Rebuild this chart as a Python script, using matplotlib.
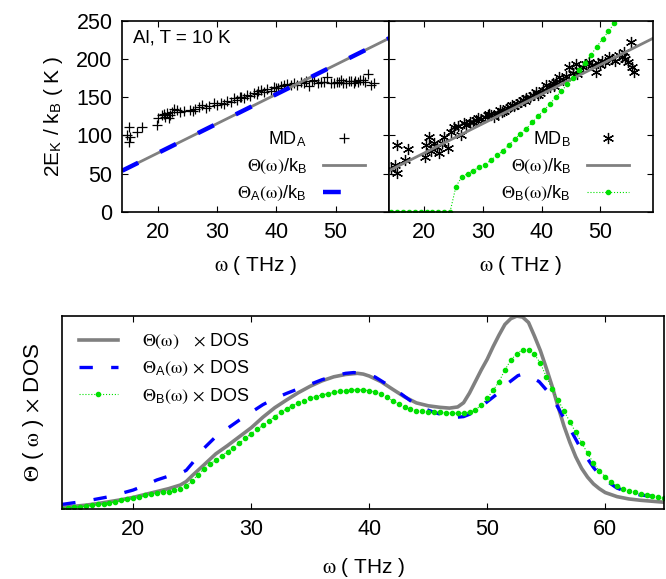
import numpy as np
import matplotlib
matplotlib.use('Agg')
import matplotlib.pyplot as plt

plt.rcParams['font.family'] = ['Liberation Sans', 'DejaVu Sans']
plt.rcParams['mathtext.fontset'] = 'stix'

# ---- top panels: MD kinetic temperature vs frequency ----
omega_line = [14, 59]
theta_line = [54, 227]          # Theta(omega)/k_B
theta_a_line = [54, 227]        # Theta_A(omega)/k_B (coincides)

md_a_w = [14.8, 15.2, 15.3, 15.2, 16.4, 17.3, 19.9, 20.1, 20.7, 21.2, 21.5, 22.1, 22.4, 22.8,
          21.0, 21.8, 23.2, 23.8, 24.4, 25.5, 25.9, 26.3, 26.9, 27.5, 28.1, 28.6, 29.4, 29.9,
          30.6, 31.2, 31.7, 32.3, 32.8, 33.4, 33.9, 34.5, 35.1, 35.6, 36.2, 36.8, 37.4, 37.9,
          38.5, 39.1, 39.6, 40.2, 40.7, 41.3, 41.8, 42.4, 43.0, 43.5, 44.1, 44.7, 45.5, 46.0,
          46.4, 47.0, 47.5, 48.1, 48.6, 49.2, 49.8, 50.3, 50.9, 51.3, 51.7, 52.2, 52.6, 53.1,
          53.7, 54.1, 54.6, 55.0, 55.5, 55.9, 56.4, 34.0, 36.9, 40.0, 45.0, 50.5, 53.3]
md_a_k = [100.6, 110.7, 97.6, 92.0, 105.0, 111.5, 113.7, 122.5, 126.8, 124.6, 129.0, 126.8, 131.0, 134.0,
          127.5, 123.0, 133.0, 131.0, 132.5, 133.0, 131.5, 134.0, 136.8, 140.0, 136.0, 138.6, 142.0, 139.5,
          143.0, 141.5, 145.5, 144.0, 148.6, 147.0, 150.7, 149.0, 153.0, 151.5, 156.0, 154.0, 159.5, 156.5,
          161.0, 158.0, 163.0, 161.5, 165.0, 166.0, 167.5, 165.5, 169.0, 166.5, 170.0, 168.0, 164.7, 171.0,
          172.5, 168.5, 170.0, 170.0, 176.9, 168.5, 168.0, 170.5, 172.5, 168.0, 169.0, 171.0, 171.6, 168.5,
          170.0, 172.0, 172.5, 170.5, 180.0, 166.0, 168.0, 150.0, 158.0, 162.0, 171.5, 169.5, 171.0]

md_b_w = [15.4, 17.2, 15.1, 15.4, 16.7, 14.3, 20.1, 20.3, 20.9, 21.7, 22.6, 23.4, 24.0, 25.1,
          26.8, 26.3, 21.2, 22.2, 23.0, 27.8, 28.4, 29.1, 29.7, 30.3, 30.8, 31.4, 31.9, 32.5,
          33.0, 33.6, 34.1, 34.7, 35.3, 35.8, 36.4, 36.8, 37.4, 38.0, 38.5, 39.1, 39.7, 40.2,
          40.8, 41.4, 41.9, 42.5, 43.0, 43.6, 44.2, 44.7, 45.3, 45.8, 46.4, 47.0, 47.5, 48.1,
          48.6, 49.2, 49.7, 50.3, 50.9, 51.5, 52.0, 52.6, 53.2, 53.7, 54.0, 54.7, 55.2, 55.8,
          24.5, 25.7, 27.2, 28.9, 31.1, 33.3, 35.0, 37.1, 39.4, 42.2, 46.1, 50.0, 54.3, 55.5]
md_b_k = [87.6, 82.0, 61.4, 50.6, 68.0, 56.0, 72.3, 87.6, 97.6, 89.8, 76.7, 98.4, 83.3, 111.5,
          116.0, 100.6, 80.0, 85.0, 90.0, 118.0, 117.5, 122.5, 121.0, 124.0, 126.8, 127.0, 124.6, 130.0,
          133.3, 132.0, 135.5, 137.6, 139.0, 141.0, 144.0, 146.0, 148.5, 150.0, 152.5, 157.0, 156.0, 160.0,
          166.0, 163.0, 168.0, 170.0, 177.0, 172.0, 178.0, 190.0, 182.0, 194.0, 186.0, 190.0, 193.0, 196.5,
          192.0, 183.0, 195.0, 198.0, 196.0, 203.0, 200.0, 198.0, 205.0, 202.0, 209.5, 196.5, 222.0, 183.0,
          104.0, 112.0, 114.0, 120.0, 128.0, 131.0, 140.0, 145.0, 153.0, 165.0, 180.0, 192.0, 200.0, 190.0]

theta_b_w = [14.4, 15.4, 16.4, 17.4, 18.4, 19.4, 20.4, 21.4, 22.4, 23.4, 24.4, 25.4, 26.4, 27.4,
             28.4, 29.4, 30.4, 31.4, 32.4, 33.4, 34.4, 35.4, 36.4, 37.4, 38.4, 39.4, 40.4, 41.4,
             42.4, 43.4, 44.4, 45.4, 46.4, 47.4, 48.4, 49.4, 50.4, 51.4, 52.4, 53.4]
theta_b_k = [0, 0, 0, 0, 0, 0, 0, 0, 0, 0, 0, 33, 46, 50,
             54, 59, 62, 68, 74, 80, 87, 95, 102, 109, 117, 125, 133, 141,
             150, 158, 167, 175, 185, 195, 205, 216, 226, 236, 247, 258]

# ---- bottom panel: Theta x DOS (arbitrary units) ----
dos_w = [14, 15, 16, 17, 18, 19, 20, 21, 22, 23, 24, 24.5, 25, 26, 27, 28, 29, 30, 31, 32, 33, 34,
         35, 36, 37, 38, 39, 39.5, 40, 41, 42, 43, 44, 45, 46, 46.8, 47.5, 48, 48.5, 49, 49.5, 50,
         50.5, 51, 51.5, 52, 52.5, 53, 53.5, 54, 54.5, 55, 55.5, 56, 56.5, 57, 57.5, 58, 58.5, 59,
         59.5, 60, 61, 62, 63, 64, 65]
dos_theta = [0.009, 0.014, 0.020, 0.028, 0.038, 0.048, 0.060, 0.075, 0.090, 0.105, 0.124, 0.142, 0.172,
             0.228, 0.285, 0.328, 0.374, 0.420, 0.475, 0.524, 0.564, 0.602, 0.635, 0.663, 0.684, 0.696,
             0.702, 0.698, 0.688, 0.659, 0.619, 0.580, 0.549, 0.534, 0.526, 0.522, 0.528, 0.550, 0.600,
             0.660, 0.720, 0.775, 0.840, 0.900, 0.955, 0.985, 0.998, 0.993, 0.965, 0.895, 0.820, 0.730,
             0.635, 0.530, 0.430, 0.345, 0.270, 0.210, 0.165, 0.130, 0.105, 0.085, 0.064, 0.052, 0.045,
             0.040, 0.035]

dos_a_w = [14, 16, 18, 20, 21, 22, 23, 24, 24.5, 25, 26, 27, 28, 29, 30, 31, 32, 33, 34, 35, 36, 37,
           38, 38.7, 39.5, 40.5, 41.5, 42.5, 43.5, 44.5, 45.5, 46.5, 47.3, 48, 48.7, 49.3, 50, 50.9,
           51.7, 52.6, 53, 53.5, 54.4, 55.1, 55.8, 56.5, 57, 58, 59, 59.5, 60, 61, 62, 63, 64, 65]
dos_theta_a = [0.024, 0.041, 0.064, 0.098, 0.122, 0.150, 0.170, 0.184, 0.200, 0.236, 0.314, 0.374, 0.417,
               0.460, 0.500, 0.540, 0.572, 0.598, 0.622, 0.645, 0.669, 0.688, 0.702, 0.706, 0.700, 0.683,
               0.645, 0.605, 0.560, 0.523, 0.500, 0.482, 0.474, 0.478, 0.495, 0.520, 0.555, 0.598, 0.648,
               0.690, 0.698, 0.690, 0.659, 0.610, 0.547, 0.470, 0.417, 0.305, 0.215, 0.178, 0.150, 0.108,
               0.085, 0.072, 0.066, 0.062]

dos_b_w = np.arange(14, 65.01, 0.5)
dos_theta_b = [0.000, 0.004, 0.008, 0.012, 0.016, 0.020, 0.024, 0.028, 0.033, 0.038, 0.044, 0.050, 0.056,
               0.063, 0.070, 0.076, 0.081, 0.086, 0.090, 0.097, 0.105, 0.118, 0.145, 0.178, 0.208, 0.232,
               0.253, 0.275, 0.297, 0.318, 0.340, 0.365, 0.390, 0.412, 0.434, 0.456, 0.478, 0.500, 0.519,
               0.535, 0.549, 0.561, 0.572, 0.582, 0.590, 0.597, 0.603, 0.608, 0.612, 0.615, 0.616, 0.616,
               0.612, 0.605, 0.595, 0.579, 0.560, 0.542, 0.527, 0.516, 0.509, 0.505, 0.503, 0.501, 0.500,
               0.498, 0.496, 0.495, 0.496, 0.502, 0.513, 0.538, 0.572, 0.614, 0.659, 0.720, 0.770, 0.804,
               0.824, 0.824, 0.800, 0.755, 0.685, 0.620, 0.564, 0.508, 0.452, 0.396, 0.343, 0.288, 0.238,
               0.198, 0.167, 0.140, 0.120, 0.106, 0.095, 0.086, 0.078, 0.071, 0.065, 0.060, 0.055]

GRAY = '#808080'
BLUE = '#0000ff'
GREEN = '#00e000'

fig = plt.figure(figsize=(6.66, 5.79), dpi=100)
ax1 = fig.add_axes([0.1836, 0.6339, 0.4005, 0.3303])
ax2 = fig.add_axes([0.5841, 0.6339, 0.3964, 0.3303])
ax3 = fig.add_axes([0.0935, 0.1209, 0.9039, 0.3338])

wlab = r'$\mathrm{ω}$ ( THz )'
TH = r'$\mathrm{Θ}$'
W = r'$\mathrm{(ω)}$'

for ax in (ax1, ax2, ax3):
    ax.tick_params(direction='in', top=True, right=True, labelsize=15.5, length=4, width=0.8, pad=7)
    for s in ax.spines.values():
        s.set_linewidth(1.2)

leg_kw = dict(loc='lower right', bbox_to_anchor=(0.97, -0.04), frameon=False, markerfirst=False,
              fontsize=13, handlelength=2.3, labelspacing=0.45, handletextpad=0.9)

# left panel
ax1.plot(md_a_w, md_a_k, '+', color='black', ms=7, mew=0.9, label=r'MD$_\mathregular{A}$')
ax1.plot(omega_line, theta_line, '-', color=GRAY, lw=2, label=TH + W + r'/k$_\mathregular{B}$')
ax1.plot(omega_line, theta_a_line, color=BLUE, lw=3.2, dashes=(4, 5.5),
         label=TH + r'$_\mathregular{A}$' + W + r'/k$_\mathregular{B}$')
ax1.set_xlim(14, 59)
ax1.set_ylim(0, 250)
ax1.set_xticks([20, 30, 40, 50])
ax1.set_yticks([0, 50, 100, 150, 200, 250])
ax1.set_xlabel(wlab, fontsize=15, labelpad=8)
ax1.set_ylabel(r'2E$_\mathregular{K}$ / k$_\mathregular{B}$ ( K )', fontsize=15, labelpad=8)
ax1.text(0.04, 0.91, 'Al, T = 10 K', transform=ax1.transAxes, fontsize=13.5, va='center')
ax1.legend(**leg_kw)

# right panel
ax2.plot(md_b_w, md_b_k, linestyle='none', marker=(6, 2, 0), color='black', ms=8, mew=0.9,
         label=r'MD$_\mathregular{B}$')
ax2.plot(omega_line, theta_line, '-', color=GRAY, lw=2, label=TH + W + r'/k$_\mathregular{B}$')
ax2.plot(theta_b_w, theta_b_k, linestyle=':', lw=0.8, color=GREEN, marker='o', ms=3,
         label=TH + r'$_\mathregular{B}$' + W + r'/k$_\mathregular{B}$')
ax2.set_xlim(14, 59)
ax2.set_ylim(0, 250)
ax2.set_xticks([20, 30, 40, 50])
ax2.set_yticks([0, 50, 100, 150, 200, 250])
ax2.tick_params(labelleft=False)
ax2.set_xlabel(wlab, fontsize=15, labelpad=8)
ax2.legend(**leg_kw)

# bottom panel
ax3.plot(dos_w, dos_theta, '-', color=GRAY, lw=2.6, label=TH + W + r'   $\times$ DOS')
ax3.plot(dos_a_w, dos_theta_a, color=BLUE, lw=2.4, dashes=(4, 5.5),
         label=TH + r'$_\mathregular{A}$' + W + r' $\times$ DOS')
ax3.plot(dos_b_w, dos_theta_b, linestyle=':', lw=0.8, color=GREEN, marker='o', ms=3,
         label=TH + r'$_\mathregular{B}$' + W + r' $\times$ DOS')
ax3.set_xlim(14, 65)
ax3.set_ylim(0, 1.0)
ax3.set_xticks([20, 30, 40, 50, 60])
ax3.set_yticks([])
ax3.set_xlabel(wlab, fontsize=15, labelpad=12)
ax3.set_ylabel(TH + r' ( $\mathrm{ω}$ ) $\times$ DOS', fontsize=16, labelpad=12)
ax3.legend(loc='upper left', frameon=False, fontsize=13, handlelength=2.2,
           labelspacing=0.45, handletextpad=1.3, borderaxespad=0.5)

fig.savefig('out.png', dpi=100)
